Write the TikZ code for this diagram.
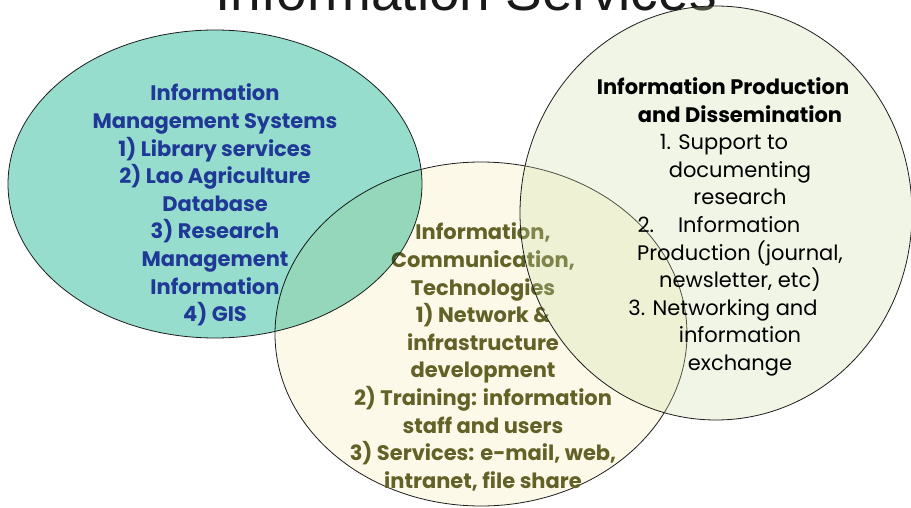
\documentclass[tikz,border=0pt]{standalone}
\usepackage{fontspec}
\setmainfont{Poppins}
\newfontfamily\titlefont{Liberation Sans}
\definecolor{tealfill}{RGB}{150,221,205}
\definecolor{creamfill}{RGB}{253,249,232}
\definecolor{greenfill}{RGB}{205,222,165}
\definecolor{bluetext}{RGB}{32,56,150}
\definecolor{olivetext}{RGB}{98,98,40}
\definecolor{rimcol}{RGB}{30,30,30}
\newcommand{\padr}[1]{\rule{#1}{0pt}}
\begin{document}
\begin{tikzpicture}[x=1pt,y=-1pt,
  rim/.style={draw=rimcol, line width=0.8pt},
  blk/.style={align=center, inner sep=0pt, font=\fontsize{21}{27.6}\selectfont},
]
\useasboundingbox (0,0) rectangle (911,508);
\fill[white] (0,0) rectangle (911,508);
% title
\node[anchor=base, inner sep=0pt, font=\titlefont\fontsize{55}{60}\selectfont, text=black!90] (title) at (466,11) {Information Services};
% middle circle
\draw[rim, fill=creamfill] (481,334) ellipse [x radius=206, y radius=172];
\node[blk, font=\fontsize{21}{27.6}\selectfont\bfseries, text=olivetext] (ict) at (483,357)
 {Information,\\Communication,\\Technologies\\1) Network \&\\infrastructure\\development\\2) Training: information\\staff and users\\3) Services: e-mail, web,\\intranet, file share};
% teal ellipse
\begin{scope}[blend mode=multiply]
\fill[tealfill] (215,184) ellipse [x radius=207, y radius=154];
\end{scope}
\draw[rim] (215,184) ellipse [x radius=207, y radius=154];
\node[blk, font=\fontsize{21}{27.6}\selectfont\bfseries, text=bluetext] (ims) at (215,205)
 {Information\\Management Systems\\1) Library services\\2) Lao Agriculture\\Database\\3) Research\\Management\\Information\\4) GIS};
% right circle
\fill[greenfill, fill opacity=0.28] (716,213) ellipse [x radius=196, y radius=207];
\draw[rim] (716,213) ellipse [x radius=196, y radius=207];
\node[blk, text=black] (ipd) at (740,227)
 {\textbf{Information Production}\padr{34pt}\\\textbf{and Dissemination}\\1. Support to\padr{32pt}\\documenting\\research\\2.\hspace{24pt}Information\padr{42pt}\\Production (journal,\\newsletter, etc)\\3. Networking and\padr{34pt}\\information\\exchange};
\end{tikzpicture}
\end{document}
